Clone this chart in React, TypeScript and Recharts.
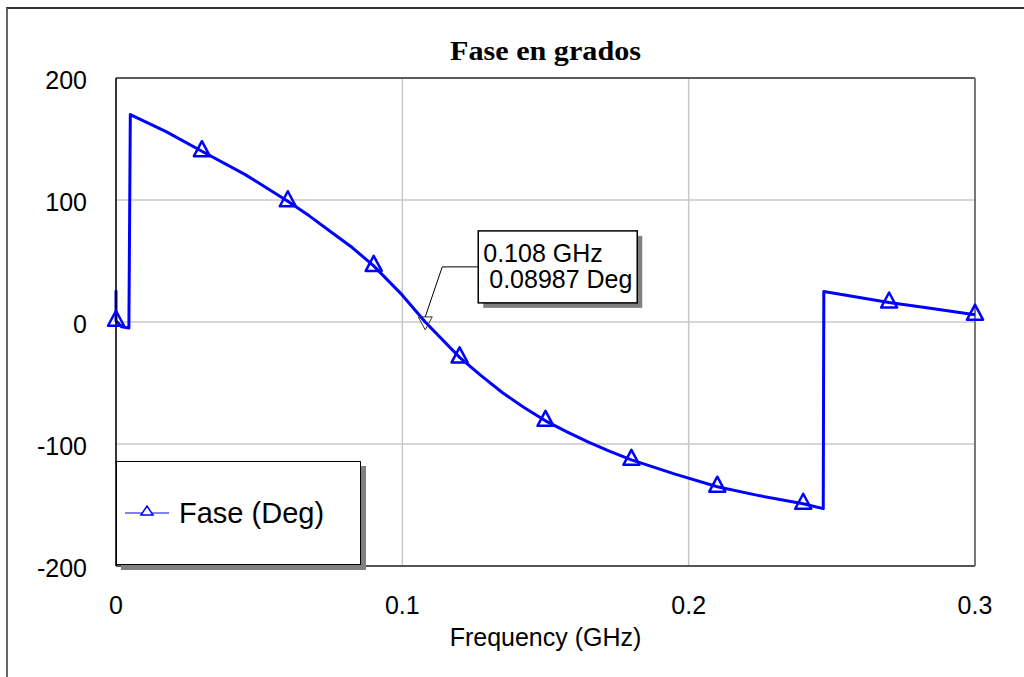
import { LineChart, Line, XAxis, YAxis, CartesianGrid, Legend, ReferenceLine, ReferenceDot } from 'recharts';

// Frecuencia (GHz) y fase (grados)
const freq = [
    0, 0, 0.002, 0.0045, 0.005, 0.0175, 0.03, 0.045, 0.06, 0.0675, 0.075, 0.0825, 0.09, 0.1,
    0.108, 0.12, 0.1275, 0.135, 0.1425, 0.15, 0.1575, 0.165, 0.1725, 0.18, 0.195, 0.21, 0.225,
    0.24, 0.247, 0.2472, 0.27, 0.285, 0.3,
];
const fase = [
    26, 1, -4, -5, 170, 156, 140, 121, 99, 87, 74, 61, 46, 22,
    0, -29, -44, -58, -70, -81, -90, -98.5, -106, -113, -124.5, -135, -142.5,
    -149, -153, 25, 16, 11, 6,
];
const markerFreqs = [0, 0.03, 0.06, 0.09, 0.12, 0.15, 0.18, 0.21, 0.24, 0.27, 0.3];

const xTicks = [0, 0.1, 0.2, 0.3];
const yTicks = [-200, -100, 0, 100, 200];

const markerFreq = 0.108;
const markerDeg = 0.08987;

const data = freq.map((f, i) => ({
    f,
    fase: fase[i],
    marca: markerFreqs.includes(f) && freq.lastIndexOf(f) === i,
}));

const BLUE = '#0000ff';
const SANS = '"Liberation Sans", Arial, sans-serif';

const TriangleDot = (props: any) => {
    const { cx, cy, payload, index } = props;
    if (!payload || !payload.marca) return <g key={`d-${index}`} />;
    return (
        <path
            key={`d-${index}`}
            d={`M${cx},${cy - 10} L${cx + 8},${cy + 5} L${cx - 8},${cy + 5} Z`}
            fill="none"
            stroke={BLUE}
            strokeWidth={2.5}
            strokeLinejoin="round"
        />
    );
};

const MarkerCallout = (props: any) => {
    const { cx, cy } = props;
    if (cx == null || cy == null) return <g />;
    const bx = cx + 53;
    const by = cy - 91;
    return (
        <g>
            <path d={`M${cx - 7},${cy - 5} L${cx + 7},${cy - 5} L${cx},${cy + 8} Z`} fill="none" stroke="#333" strokeWidth={1} />
            <polyline points={`${cx},${cy - 5} ${cx + 17},${cy - 55} ${bx},${cy - 55}`} fill="none" stroke="#000" strokeWidth={1} />
            <rect x={bx + 5} y={by + 5} width={159} height={72} fill="#808080" />
            <rect x={bx} y={by} width={159} height={72} fill="#fff" stroke="#000" strokeWidth={1.5} />
            <text x={bx + 5} y={cy - 60} fontFamily={SANS} fontSize={25} fill="#000">
                {`${markerFreq} GHz`}
            </text>
            <text x={bx + 11} y={cy - 34} fontFamily={SANS} fontSize={25} fill="#000">
                {`${markerDeg} Deg`}
            </text>
        </g>
    );
};

const LegendBox = () => (
    <div style={{ position: 'relative', width: 245, height: 104 }}>
        <div style={{ position: 'absolute', left: 5, top: 5, width: 245, height: 104, background: '#808080' }} />
        <div
            style={{
                position: 'absolute',
                left: 0,
                top: 0,
                width: 243,
                height: 102,
                background: '#fff',
                border: '1px solid #000',
                display: 'flex',
                alignItems: 'center',
            }}
        >
            <svg width={56} height={20} style={{ marginLeft: 8 }}>
                <line x1={0} y1={10} x2={44} y2={10} stroke={BLUE} strokeWidth={1} />
                <path d="M22,3 L28,12 L16,12 Z" fill="#fff" stroke={BLUE} strokeWidth={1.5} />
            </svg>
            <span style={{ fontFamily: SANS, fontSize: 29, color: '#000', marginLeft: -2, marginTop: 1 }}>Fase (Deg)</span>
        </div>
    </div>
);

const App = () => {
    return (
        <div style={{ position: 'absolute', left: 0, top: 0, width: 1024, height: 677, overflow: 'hidden', background: '#fff' }}>
            <div
                style={{
                    position: 'absolute',
                    left: 6,
                    top: 7,
                    width: 1100,
                    height: 700,
                    borderLeft: '2px solid #666',
                    borderTop: '2px solid #333',
                }}
            />
            <svg width={1024} height={80} style={{ position: 'absolute', left: 0, top: 0 }}>
                <text
                    x={545.5}
                    y={60}
                    textAnchor="middle"
                    fontFamily='"Liberation Serif", "Times New Roman", serif'
                    fontWeight="bold"
                    fontSize={27}
                    textLength={191}
                    lengthAdjust="spacingAndGlyphs"
                    fill="#000"
                >
                    Fase en grados
                </text>
            </svg>
            <div style={{ position: 'absolute', left: 0, top: 0 }}>
                <LineChart width={1024} height={677} data={data} margin={{ top: 78, right: 49, left: 36, bottom: 11 }}>
                    <CartesianGrid stroke="#c8c8c8" strokeWidth={1.5} />
                    <XAxis
                        dataKey="f"
                        type="number"
                        domain={[0, 0.3]}
                        ticks={xTicks}
                        tickFormatter={(v: number) => String(v)}
                        height={100}
                        tickSize={0}
                        tickMargin={30}
                        axisLine={{ stroke: '#555', strokeWidth: 2 }}
                        tick={{ fill: '#000', fontSize: 25, fontFamily: SANS }}
                        label={{ value: 'Frequency (GHz)', position: 'insideBottom', offset: 20, fill: '#000', fontSize: 25, fontFamily: SANS }}
                    />
                    <YAxis
                        type="number"
                        domain={[-200, 200]}
                        ticks={yTicks}
                        width={80}
                        tickSize={0}
                        tickMargin={29}
                        axisLine={{ stroke: '#000', strokeWidth: 1.5 }}
                        tick={{ fill: '#000', fontSize: 25, fontFamily: SANS, dy: 2 }}
                    />
                    <ReferenceLine y={200} stroke="#333" strokeWidth={1.5} />
                    <ReferenceLine x={0.3} stroke="#777" strokeWidth={2} />
                    <Legend
                        layout="horizontal"
                        verticalAlign="middle"
                        align="center"
                        wrapperStyle={{ position: 'absolute', left: 116, top: 461, width: 250, height: 110 }}
                        content={() => <LegendBox />}
                    />
                    <Line
                        type="linear"
                        dataKey="fase"
                        name="Fase (Deg)"
                        stroke={BLUE}
                        strokeWidth={3}
                        strokeLinejoin="round"
                        dot={TriangleDot}
                        activeDot={false}
                        isAnimationActive={false}
                    />
                    <ReferenceDot x={markerFreq} y={markerDeg} shape={MarkerCallout} />
                </LineChart>
            </div>
        </div>
    );
};

export default App;
